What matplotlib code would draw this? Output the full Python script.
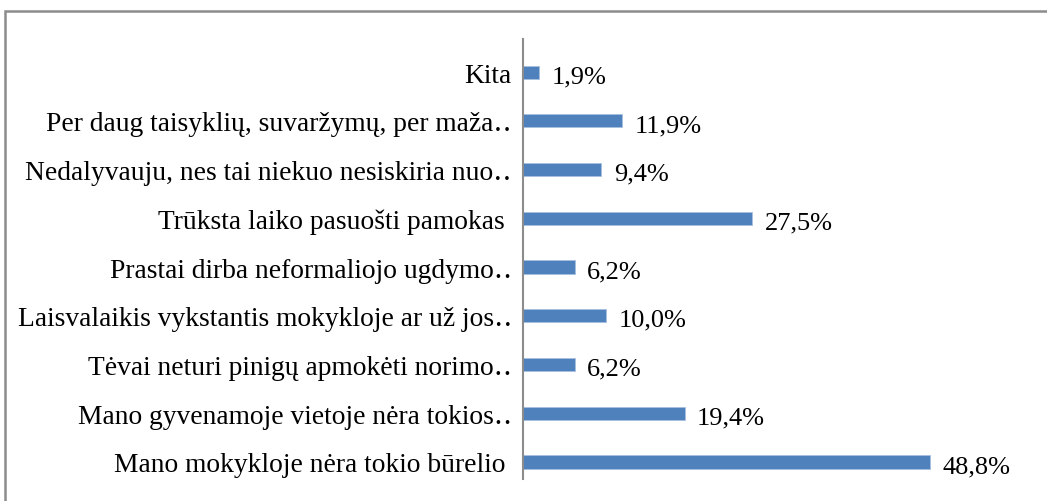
import matplotlib.pyplot as plt
from matplotlib.patches import Rectangle

plt.rcParams['font.family'] = ['Liberation Serif', 'DejaVu Serif']

# kategorijos (nuo apačios į viršų)
categories = [
    'Mano mokykloje nėra tokio būrelio ',
    'Mano gyvenamoje vietoje nėra tokios‥',
    'Tėvai neturi pinigų apmokėti norimo‥',
    'Laisvalaikis vykstantis mokykloje ar už jos‥',
    'Prastai dirba neformaliojo ugdymo‥',
    'Trūksta laiko pasuošti pamokas ',
    'Nedalyvauju, nes tai niekuo nesiskiria nuo‥',
    'Per daug taisyklių, suvaržymų, per maža‥',
    'Kita',
]
values = [48.8, 19.4, 6.2, 10.0, 6.2, 27.5, 9.4, 11.9, 1.9]
value_labels = ['48,8%', '19,4%', '6,2%', '10,0%', '6,2%', '27,5%', '9,4%', '11,9%', '1,9%']

W, H = 1047, 502
fig = plt.figure(figsize=(W / 100, H / 100), dpi=100)

# rėmelis aplink diagramą
fig.patches.append(Rectangle((5 / W, -0.1), 1.1, 1 - 12 / H + 0.1,
                             transform=fig.transFigure, fill=False,
                             edgecolor='#8c8c8c', linewidth=1.8, clip_on=False))

x0, x1 = 523, 1023
y_top, y_bot = 40, 480
ax = fig.add_axes([x0 / W, 1 - y_bot / H, (x1 - x0) / W, (y_bot - y_top) / H])

ypos = list(range(len(categories)))
ax.barh(ypos, values, height=0.27, color='#4f81bd', edgecolor='#a7c0e0', linewidth=0.6)

for y, v, lab in zip(ypos, values, value_labels):
    ax.annotate(lab, (v, y), xytext=(9, -3), textcoords='offset points',
                va='center', ha='left', fontsize=19, color='black')

ax.set_xlim(0, 60)
ax.set_ylim(-0.35, 8.68)
ax.set_yticks(ypos)
ax.set_yticklabels(categories, fontsize=19.8)
ax.tick_params(axis='y', length=0, pad=8)
ax.set_xticks([])
for s in ['top', 'right', 'bottom']:
    ax.spines[s].set_visible(False)
ax.spines['left'].set_color('#8c8c8c')
ax.spines['left'].set_linewidth(1.5)

fig.savefig('out.png', dpi=100)
